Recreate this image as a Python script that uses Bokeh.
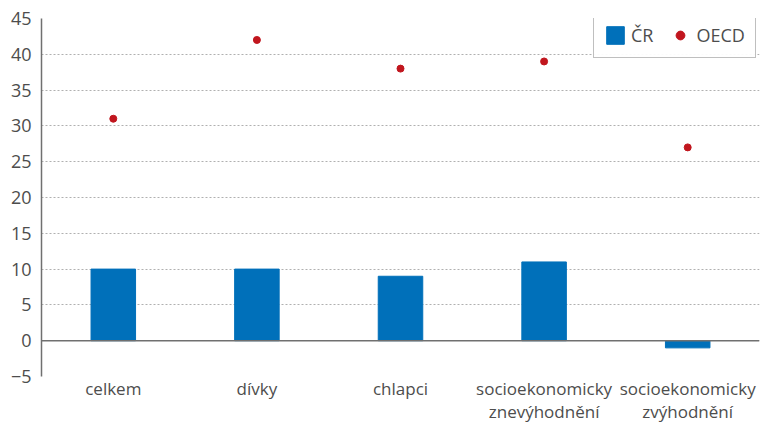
from bokeh.plotting import figure
from bokeh.models import Span, Legend, LegendItem, FixedTicker, ColumnDataSource
from bokeh.embed import file_html
from bokeh.resources import INLINE

categories = ["celkem", "dívky", "chlapci", "socioekonomicky\nznevýhodnění", "socioekonomicky\nzvýhodnění"]
cr_values = [10, 10, 9, 11, -1]
oecd_values = [31, 42, 38, 39, 27]
y_ticks = [-5, 0, 5, 10, 15, 20, 25, 30, 35, 40, 45]

FONT = "Open Sans"
TXT = "#4d4d4d"

src = ColumnDataSource(dict(cat=categories, cr=cr_values, oecd=oecd_values))

p = figure(x_range=categories, y_range=(-5, 45), width=765, height=425,
           output_backend="svg", toolbar_location=None,
           min_border_left=41, min_border_right=6, min_border_top=18, min_border_bottom=48)
p.outline_line_color = None
p.background_fill_color = "white"

bars = p.vbar(x="cat", top="cr", bottom=0, width=0.31, source=src, color="#0070BA")
dots = p.scatter(x="cat", y="oecd", source=src, size=7, color="#C1161E", marker="circle")

p.yaxis.ticker = FixedTicker(ticks=y_ticks)
p.yaxis.major_label_overrides = {-5: "\u22125"}
p.yaxis.major_tick_line_color = None
p.yaxis.minor_tick_line_color = None
p.yaxis.major_tick_out = 0
p.yaxis.major_tick_in = 0
p.yaxis.axis_line_color = "#707070"
p.yaxis.axis_line_width = 1.5
p.yaxis.major_label_text_font = FONT
p.yaxis.major_label_text_font_size = "18px"
p.yaxis.major_label_text_color = TXT
p.yaxis.major_label_standoff = 10

p.xaxis.axis_line_color = None
p.xaxis.major_tick_line_color = None
p.xaxis.major_tick_out = 0
p.xaxis.major_tick_in = 0
p.xaxis.major_label_text_font = FONT
p.xaxis.major_label_text_font_size = "17px"
p.xaxis.major_label_text_color = TXT
p.xaxis.major_label_standoff = 0
p.xaxis.major_label_text_line_height = 1.0

p.xgrid.grid_line_color = None
p.ygrid.ticker = FixedTicker(ticks=y_ticks)
p.ygrid.grid_line_color = "#b0b0b0"
p.ygrid.grid_line_dash = "2 2"
p.ygrid.grid_line_width = 1

p.add_layout(Span(location=0, dimension="width", line_color="#707070", line_width=1.5))

legend = Legend(items=[LegendItem(label="ČR", renderers=[bars]),
                       LegendItem(label="OECD", renderers=[dots])],
                location=(552, 318), orientation="horizontal",
                label_text_font=FONT, label_text_font_size="18px", label_text_color=TXT,
                border_line_color="#808080", border_line_width=1.5,
                glyph_width=22, glyph_height=22, spacing=16, padding=10, margin=0)
p.add_layout(legend)

open("out.html", "w").write(file_html(p, INLINE))
